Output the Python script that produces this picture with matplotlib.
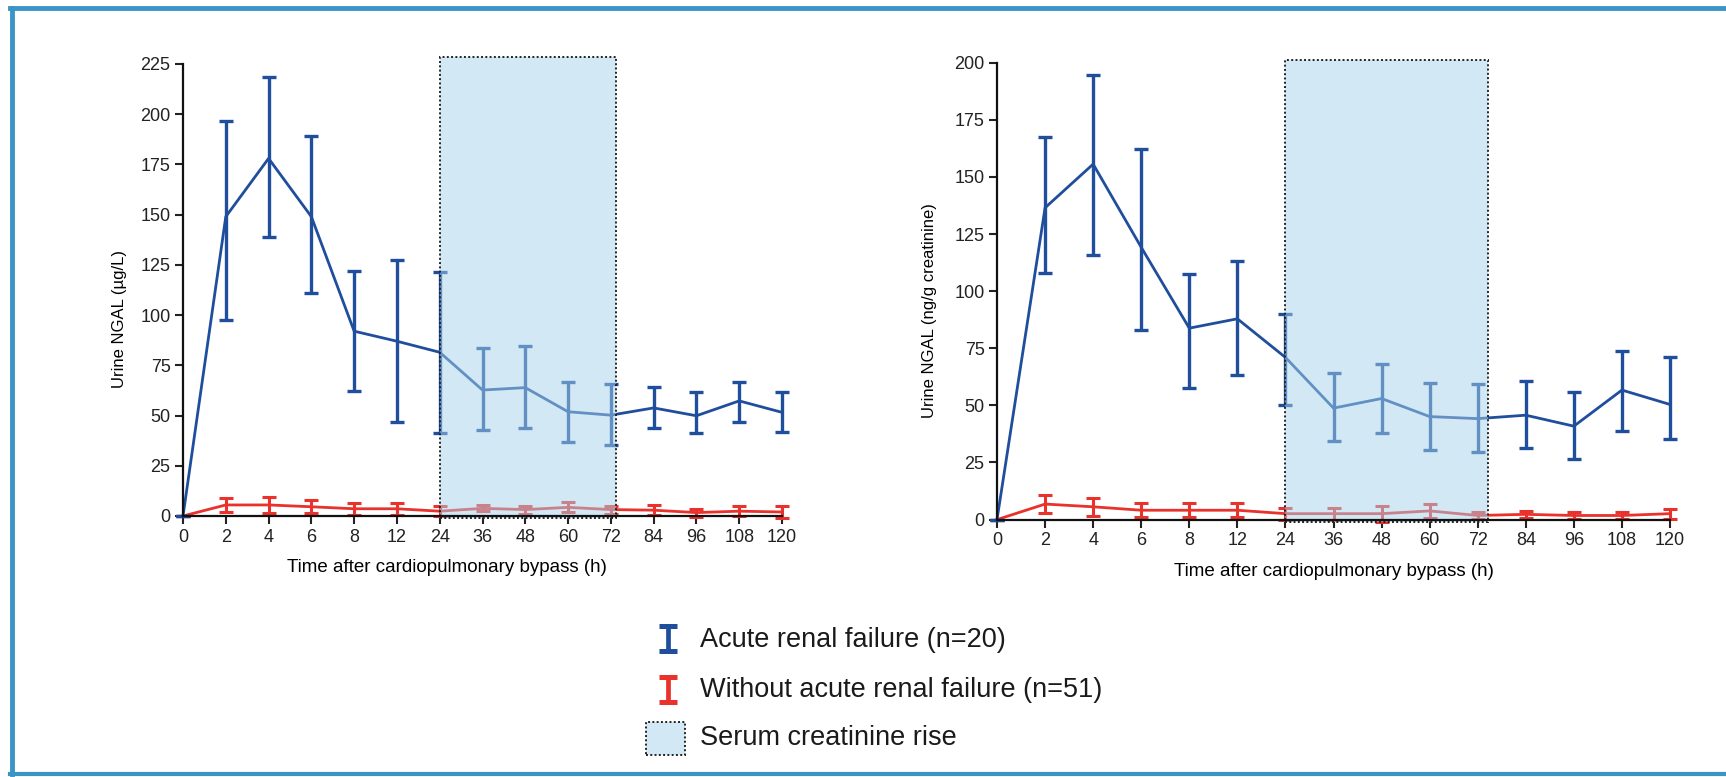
import numpy as np
import matplotlib
matplotlib.use("Agg")
import matplotlib.pyplot as plt
from matplotlib.patches import Rectangle
from matplotlib.lines import Line2D

# ---------------- data ----------------
times = ["0", "2", "4", "6", "8", "12", "24", "36", "48", "60", "72", "84", "96", "108", "120"]
serum_rise = ("24", "72")

# Panel A: urine NGAL (µg/L)
arf_a = [0, 149, 178, 149, 92, 87, 81.5, 62.7, 63.9, 51.9, 50.2, 53.8, 49.9, 57.3, 51.6]
arf_a_hi = [0, 196.5, 218.5, 189, 122, 127.4, 121.6, 83.5, 84.4, 66.5, 65.8, 64.1, 61.5, 66.8, 61.5]
arf_a_lo = [0, 97.7, 139.1, 110.9, 62.4, 47, 41.3, 43, 43.6, 36.7, 35.4, 43.9, 41.3, 46.6, 41.7]
no_a = [0, 5.5, 5.5, 4.6, 3.6, 3.6, 2.4, 3.8, 3.2, 4.3, 3.2, 2.9, 1.7, 2.4, 2.0]
no_a_err = [0, 3.6, 3.8, 3.3, 3.0, 3.0, 2.5, 1.5, 2.0, 2.5, 2.0, 2.5, 2.0, 2.5, 2.8]

# Panel B: urine NGAL (ng/g creatinine)
arf_b = [0, 136.5, 155.6, 119.2, 83.8, 87.9, 71, 48.8, 53, 45.1, 44.2, 45.7, 40.9, 56.7, 50.4]
arf_b_hi = [0, 167.3, 194.7, 162.1, 107.4, 113.2, 90.1, 64.3, 68, 59.7, 59.3, 60.5, 55.7, 74, 71]
arf_b_lo = [0, 107.9, 115.7, 83.1, 57.5, 63.2, 50.3, 34.6, 37.9, 30.4, 29.6, 31.2, 26.6, 38.7, 35.2]
no_b = [0, 6.8, 5.6, 4.1, 4.1, 4.1, 2.6, 2.6, 2.6, 3.8, 1.8, 2.3, 1.8, 1.8, 2.6]
no_b_err = [0, 3.9, 3.9, 3.0, 3.0, 3.0, 2.6, 2.6, 3.5, 3.0, 1.4, 1.5, 1.4, 1.4, 2.2]

y_labels = ["Urine NGAL (\u00b5g/L)", "Urine NGAL (ng/g creatinine)"]
x_label = "Time after cardiopulmonary bypass (h)"
legend_labels = ["Acute renal failure (n=20)", "Without acute renal failure (n=51)",
                 "Serum creatinine rise"]

# ---------------- style ----------------
FONT = ["Liberation Sans Narrow", "Liberation Sans", "DejaVu Sans"]
plt.rcParams["font.family"] = FONT
BLUE = "#1f4e9c"
RED = "#e8322b"
BOX_FILL = "#a7d3eb"
FRAME = "#3a95c6"

W, H = 1726, 777
fig = plt.figure(figsize=(W / 100, H / 100), dpi=100)
fig.patch.set_facecolor("white")

x = np.arange(len(times))
i0 = times.index(serum_rise[0])
i1 = times.index(serum_rise[1])

panels = [
    dict(rect=[183 / W, 1 - 516 / H, 599 / W, 452 / H], ymax=225, ystep=25,
         arf=arf_a, hi=arf_a_hi, lo=arf_a_lo, no=no_a, noerr=no_a_err,
         ylabel=y_labels[0], ylab_xy=(-0.093, 0.436), xlab_xy=(0.44, -0.095),
         box_pad=0.13, box_top=3.5),
    dict(rect=[997 / W, 1 - 519.6 / H, 673 / W, 456.9 / H], ymax=200, ystep=25,
         arf=arf_b, hi=arf_b_hi, lo=arf_b_lo, no=no_b, noerr=no_b_err,
         ylabel=y_labels[1], ylab_xy=(-0.089, 0.457), xlab_xy=(0.5, -0.095),
         box_pad=0.22, box_top=1.0),
]

for p in panels:
    ax = fig.add_axes(p["rect"])
    arf = np.array(p["arf"])
    yerr_arf = np.vstack([arf - np.array(p["lo"]), np.array(p["hi"]) - arf])
    no = np.array(p["no"])
    noerr = np.array(p["noerr"])

    ax.errorbar(x, no, yerr=noerr, color=RED, lw=2.0, elinewidth=2.2,
                capsize=5, capthick=2.2, clip_on=False, zorder=3)
    ax.errorbar(x, arf, yerr=yerr_arf, color=BLUE, lw=2.0, elinewidth=2.4,
                capsize=5, capthick=2.4, clip_on=False, zorder=4)

    # serum creatinine rise box (semi-transparent over the lines)
    ax.add_patch(Rectangle((x[i0], -1.0), (x[i1] - x[i0]) + p["box_pad"],
                           p["ymax"] + p["box_top"] + 1.0,
                           facecolor=BOX_FILL, alpha=0.5, edgecolor="none",
                           clip_on=False, zorder=5))
    ax.add_patch(Rectangle((x[i0], -1.0), (x[i1] - x[i0]) + p["box_pad"],
                           p["ymax"] + p["box_top"] + 1.0,
                           facecolor="none", edgecolor="#222222", lw=1.4,
                           linestyle=(0, (1, 1.2)), clip_on=False, zorder=6))

    ax.set_xlim(0, len(times) - 1)
    ax.set_ylim(0, p["ymax"])
    ax.set_xticks(x)
    ax.set_xticklabels(times)
    ax.set_yticks(np.arange(0, p["ymax"] + 1, p["ystep"]))
    for s in ["top", "right"]:
        ax.spines[s].set_visible(False)
    for s in ["left", "bottom"]:
        ax.spines[s].set_linewidth(1.6)
        ax.spines[s].set_color("#111111")
        ax.spines[s].set_zorder(7)
    ax.tick_params(axis="both", direction="out", length=6, width=1.5,
                   labelsize=13, colors="#222222", pad=3)
    ax.set_ylabel(p["ylabel"], fontsize=12)
    ax.yaxis.set_label_coords(*p["ylab_xy"])
    ax.set_xlabel(x_label, fontsize=13.5)
    ax.xaxis.set_label_coords(*p["xlab_xy"])
    ax.set_facecolor("none")

# ---------------- legend (figure coords) ----------------
def fx(px):
    return px / W

def fy(py):
    return 1 - py / H

def ibar(cx, ytop, ybot, color):
    fig.add_artist(Line2D([fx(cx), fx(cx)], [fy(ytop), fy(ybot)], color=color, lw=3.4))
    for yy in (ytop, ybot):
        fig.add_artist(Line2D([fx(cx - 9), fx(cx + 9)], [fy(yy), fy(yy)], color=color,
                              lw=3.6, solid_capstyle="butt"))

ibar(668, 626, 651, BLUE)
ibar(668, 677, 702, RED)
fig.add_artist(Rectangle((fx(646), fy(755)), fx(685) - fx(646), fy(722) - fy(755),
                         facecolor=BOX_FILL, alpha=0.5, edgecolor="none",
                         transform=fig.transFigure))
fig.add_artist(Rectangle((fx(646), fy(755)), fx(685) - fx(646), fy(722) - fy(755),
                         facecolor="none", edgecolor="#222222", lw=1.4,
                         linestyle=(0, (1, 1.2)), transform=fig.transFigure))
for yy, lab in zip([640, 690, 738], legend_labels):
    fig.text(fx(700), fy(yy), lab, fontsize=19.5, va="center", ha="left", color="#1a1a1a")

# ---------------- frame ----------------
fig.add_artist(Line2D([fx(10), 1.0], [fy(8), fy(8)], color=FRAME, lw=3.5))
fig.add_artist(Line2D([fx(12), fx(12)], [fy(8), fy(774)], color=FRAME, lw=3.5))
fig.add_artist(Line2D([fx(10), 1.0], [fy(774), fy(774)], color=FRAME, lw=3.0))

fig.savefig("out.png", dpi=100, facecolor="white")
